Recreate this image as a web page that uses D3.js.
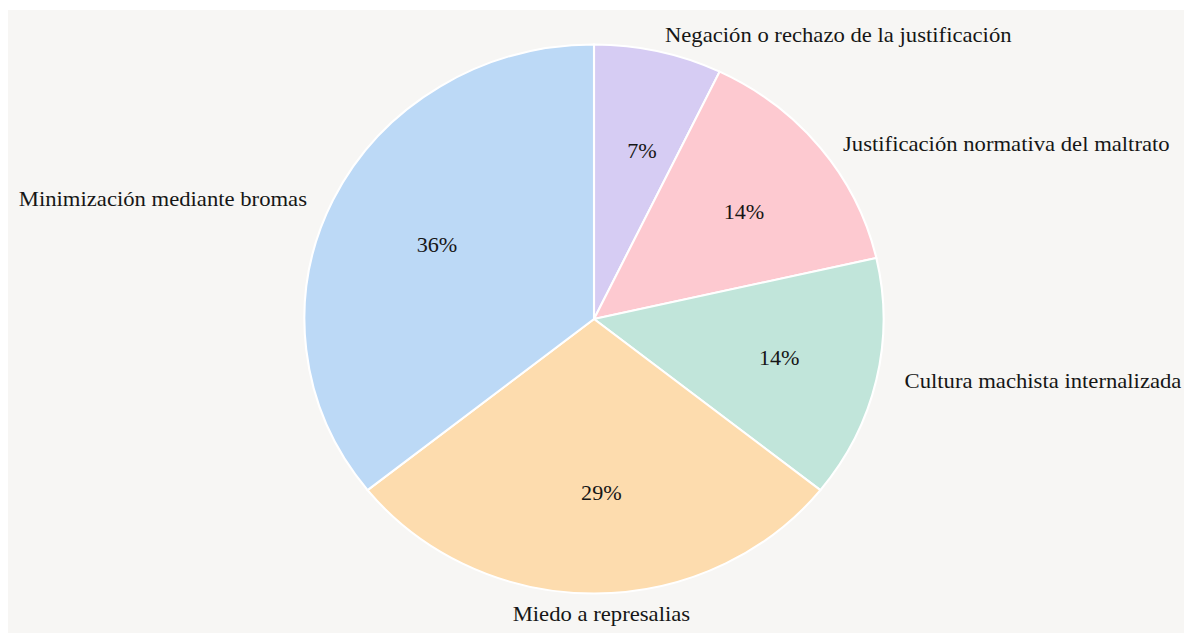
<!DOCTYPE html>
<html>
<head>
<meta charset="utf-8">
<script src="https://cdn.jsdelivr.net/npm/d3@7"></script>
<style>
  body { margin: 0; background: #ffffff; }
  text { font-family: "Liberation Serif", "Times New Roman", serif; fill: #161616; }
</style>
</head>
<body>
<div class="chart"></div>
<script>
// data, clockwise from 12 o'clock
const categories = [
  'Negación o rechazo de la justificación',
  'Justificación normativa del maltrato',
  'Cultura machista internalizada',
  'Miedo a represalias',
  'Minimización mediante bromas'
];
const counts = [1, 2, 2, 4, 5];
const colors = ['#d6ccf3', '#fdc9d0', '#c1e5da', '#fddcae', '#bcd9f6'];

const width = 1184;
const height = 634;
const radius = 274.5;
const stretch = 1.055; // reference is slightly wider than tall

const svg = d3.select('.chart')
  .append('svg')
  .attr('width', width)
  .attr('height', height);

svg.append('rect')
  .attr('x', 8)
  .attr('y', 10)
  .attr('width', width - 8)
  .attr('height', height - 11)
  .style('fill', '#f7f6f4');

const g = svg.append('g')
  .attr('transform', `translate(594, 319) scale(${stretch}, 1)`);

const total = d3.sum(counts);
const data = categories.map((c, i) => ({ name: c, value: counts[i], color: colors[i] }));

const pie = d3.pie()
  .sort(null)
  .value(d => d.value);

const arcs = pie(data);

const arc = d3.arc()
  .innerRadius(0)
  .outerRadius(radius);

g.selectAll('path.slice')
  .data(arcs)
  .join('path')
  .attr('class', 'slice')
  .attr('d', arc)
  .style('fill', d => d.data.color)
  .style('stroke', '#ffffff')
  .style('stroke-width', 2);

const mid = d => (d.startAngle + d.endAngle) / 2;
// labels sit a little further out near top / bottom
const yk = d => 1 + 0.07 * Math.cos(mid(d)) ** 2;

// percentage labels inside
g.selectAll('text.pct')
  .data(arcs)
  .join('text')
  .attr('class', 'pct')
  .attr('x', d => Math.sin(mid(d)) * radius * 0.63 + 7)
  .attr('y', d => -Math.cos(mid(d)) * radius * 0.63 + 3)
  .attr('text-anchor', 'middle')
  .attr('dominant-baseline', 'middle')
  .style('font-size', '21px')
  .text(d => Math.round(d.value / total * 100) + '%');

// category labels outside
g.selectAll('text.label')
  .data(arcs)
  .join('text')
  .attr('class', 'label')
  .attr('x', d => {
    const s = Math.sin(mid(d));
    return s * radius * 1.1 + (Math.abs(s) < 0.01 ? 7 : 0);
  })
  .attr('y', d => -Math.cos(mid(d)) * radius * yk(d) + 3)
  .attr('text-anchor', d => {
    const s = Math.sin(mid(d));
    return Math.abs(s) < 0.01 ? 'middle' : (s > 0 ? 'start' : 'end');
  })
  .attr('dominant-baseline', 'middle')
  .style('font-size', '21.5px')
  .text(d => d.data.name);
</script>
</body>
</html>
